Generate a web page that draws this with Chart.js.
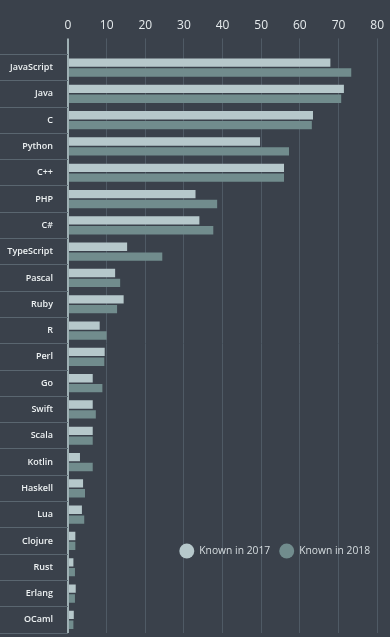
<!DOCTYPE html>
<html>
<head>
<meta charset="utf-8">
<script src="https://cdn.jsdelivr.net/npm/chart.js@4/dist/chart.umd.min.js"></script>
<style>
  html, body { margin: 0; padding: 0; background: #3a414b; }
  #wrap { width: 390px; height: 637px; }
</style>
</head>
<body>
<div id="wrap"><canvas id="langChart"></canvas></div>
<script>
const languages = ['JavaScript', 'Java', 'C', 'Python', 'C++', 'PHP', 'C#', 'TypeScript', 'Pascal', 'Ruby',
    'R', 'Perl', 'Go', 'Swift', 'Scala', 'Kotlin', 'Haskell', 'Lua', 'Clojure', 'Rust', 'Erlang', 'OCaml'];
const known2017 = [67.9, 71.4, 63.4, 49.7, 55.9, 33.0, 34.0, 15.3, 12.2, 14.4,
    8.2, 9.5, 6.4, 6.4, 6.4, 3.1, 3.9, 3.6, 1.9, 1.4, 2.0, 1.5];
const known2018 = [73.3, 70.7, 63.1, 57.2, 55.9, 38.6, 37.6, 24.4, 13.5, 12.7,
    10.0, 9.4, 8.9, 7.2, 6.4, 6.4, 4.4, 4.2, 1.9, 1.8, 1.8, 1.4];
const seriesNames = ['Known in 2017', 'Known in 2018'];
const seriesColors = ['#b6c8cb', '#718c8d'];

const font = 'Open Sans';

// legend drawn inside the plot, bottom right
const innerLegend = {
    id: 'innerLegend',
    afterDraw(chart) {
        const ctx = chart.ctx;
        const area = chart.chartArea;
        ctx.save();
        ctx.font = '10.3px "' + font + '"';
        ctx.textBaseline = 'middle';
        const r = 7.5;
        const y = area.bottom - 82;
        let widths = chart.data.datasets.map(ds => ctx.measureText(ds.label).width);
        let total = widths.reduce((a, w) => a + r * 2 + 5 + w, 0) + 9 * (widths.length - 1);
        let x = area.right - 7 - total;
        chart.data.datasets.forEach((ds, i) => {
            ctx.fillStyle = ds.backgroundColor;
            ctx.beginPath();
            ctx.arc(x + r, y, r, 0, Math.PI * 2);
            ctx.fill();
            ctx.fillStyle = '#d6dde0';
            ctx.fillText(ds.label, x + r * 2 + 5, y);
            x += r * 2 + 5 + widths[i] + 9;
        });
        ctx.restore();
    }
};

const ctx = document.getElementById('langChart').getContext('2d');
new Chart(ctx, {
    type: 'bar',
    data: {
        labels: languages,
        datasets: [
            { label: seriesNames[0], data: known2017, backgroundColor: seriesColors[0] },
            { label: seriesNames[1], data: known2018, backgroundColor: seriesColors[1] }
        ]
    },
    options: {
        indexAxis: 'y',
        responsive: true,
        maintainAspectRatio: false,
        animation: false,
        layout: { padding: { top: 12, right: 8, bottom: 4, left: 0 } },
        datasets: {
            bar: { categoryPercentage: 0.75, barPercentage: 0.85 }
        },
        scales: {
            x: {
                position: 'top',
                min: 0,
                max: 80,
                ticks: {
                    stepSize: 10,
                    color: '#e6ebed',
                    padding: 6,
                    font: { family: font, size: 12 }
                },
                grid: {
                    color: c => c.tick && c.tick.value === 0 ? '#9fb0b4' : '#4f5a65',
                    lineWidth: c => c.tick && c.tick.value === 0 ? 2 : 1,
                    tickLength: 16
                },
                border: { display: false }
            },
            y: {
                afterFit: scale => { scale.width = 68; },
                ticks: {
                    color: '#eef2f3',
                    padding: -53,
                    font: { family: font, size: 9, weight: '600' }
                },
                grid: {
                    offset: true,
                    drawOnChartArea: false,
                    tickLength: 68,
                    color: '#5a6670'
                },
                border: { display: false }
            }
        },
        plugins: {
            legend: { display: false },
            tooltip: { enabled: false }
        }
    },
    plugins: [innerLegend]
});
</script>
</body>
</html>
